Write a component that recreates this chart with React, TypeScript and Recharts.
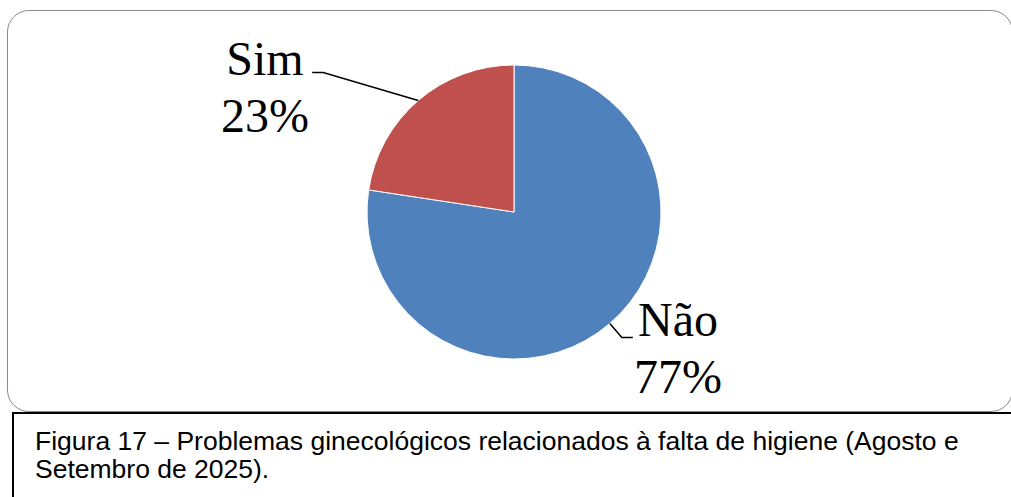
import React from "react";
import { PieChart, Pie, Cell } from "recharts";

// slice data (shares)
const categories = ["Não", "Sim"];
const values = [77.4, 22.6];
const COLORS = ["#4F81BD", "#C0504D"];

// label placement (elbow offset from slice edge, text centre, line direction)
const LABEL_LAYOUT = [
  { elbow: [12, 14], tail: 11, textX: 678, textY: 336 },
  { elbow: [-95, -28], tail: -11, textX: 265, textY: 75 },
];

const pieData = categories.map((name, i) => ({ name, value: values[i] }));

const RADIAN = Math.PI / 180;

const renderLabel = (props: any) => {
  const { cx, cy, midAngle, outerRadius, index, name, percent } = props;
  const layout = LABEL_LAYOUT[index];
  const sx = cx + outerRadius * Math.cos(-midAngle * RADIAN);
  const sy = cy + outerRadius * Math.sin(-midAngle * RADIAN);
  const ex = sx + layout.elbow[0];
  const ey = sy + layout.elbow[1];
  const tx = ex + layout.tail;
  return (
    <g>
      <path
        d={`M${sx},${sy}L${ex},${ey}L${tx},${ey}`}
        stroke="#000"
        strokeWidth={1.5}
        fill="none"
      />
      <text
        x={layout.textX}
        y={layout.textY}
        textAnchor="middle"
        fill="#000"
        fontFamily="'Liberation Serif', serif"
        fontSize={48}
      >
        <tspan x={layout.textX}>{name}</tspan>
        <tspan x={layout.textX} dy={57}>
          {`${Math.round(percent * 100)}%`}
        </tspan>
      </text>
    </g>
  );
};

const App: React.FC = () => {
  return (
    <div
      style={{
        position: "fixed",
        left: 0,
        top: 0,
        width: 1011,
        height: 497,
        background: "#fff",
        overflow: "hidden",
      }}
    >
      {/* chart frame */}
      <div
        style={{
          position: "absolute",
          left: 7,
          top: 10,
          width: 1004,
          height: 400,
          border: "1.5px solid #8a8a8a",
          borderRadius: 22,
        }}
      />
      <div style={{ position: "absolute", left: 0, top: 0 }}>
        <PieChart
          width={1011}
          height={412}
          margin={{ top: 0, right: 0, bottom: 0, left: 0 }}
        >
          <Pie
            data={pieData}
            dataKey="value"
            nameKey="name"
            cx={514}
            cy={212}
            outerRadius={147}
            startAngle={90}
            endAngle={-270}
            stroke="#fff"
            strokeWidth={1}
            label={renderLabel}
            labelLine={false}
            isAnimationActive={false}
          >
            {pieData.map((entry, idx) => (
              <Cell key={`cell-${idx}`} fill={COLORS[idx % COLORS.length]} />
            ))}
          </Pie>
        </PieChart>
      </div>
      {/* caption */}
      <div
        style={{
          position: "absolute",
          left: 12,
          top: 412,
          width: 1010,
          height: 100,
          border: "2px solid #000",
          boxSizing: "border-box",
          padding: "13px 0 0 21px",
          fontFamily: "'Liberation Sans', Arial, sans-serif",
          fontSize: 26.5,
          lineHeight: "28px",
          color: "#000",
          whiteSpace: "nowrap",
        }}
      >
        Figura 17 – Problemas ginecológicos relacionados à falta de higiene (Agosto e
        <br />
        Setembro de 2025).
      </div>
    </div>
  );
};

export default App;
